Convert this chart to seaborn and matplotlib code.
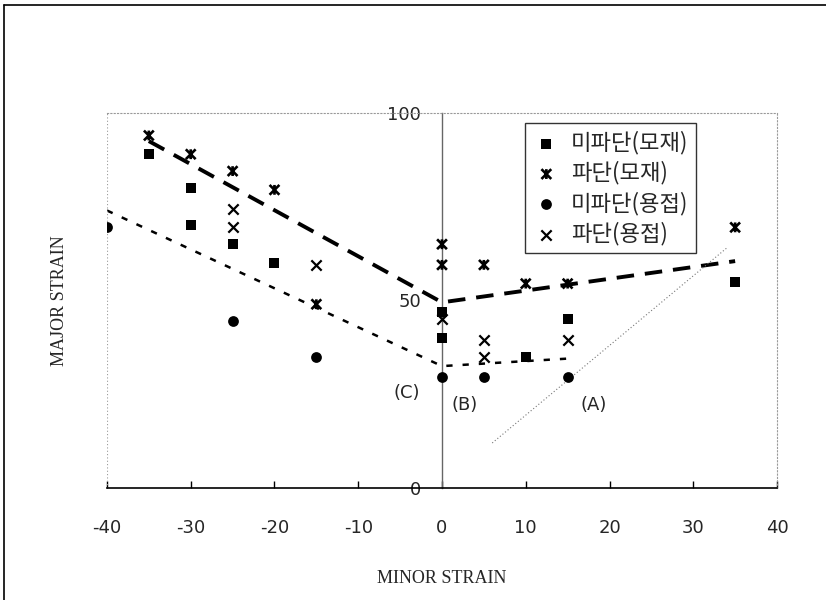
import matplotlib
matplotlib.use("Agg")
import matplotlib.pyplot as plt
from matplotlib.path import Path
from matplotlib.lines import Line2D
import seaborn as sns
import pandas as pd

# ---- data ----
sq_x = [-35, -30, -30, -25, -20, 0, 0, 10, 15, 35]
sq_y = [89, 80, 70, 65, 60, 47, 40, 35, 45, 55]
ast_x = [-35, -30, -25, -20, -15, 0, 0, 5, 10, 15, 35]
ast_y = [94, 89, 84.5, 79.5, 49, 65, 59.5, 59.5, 54.5, 54.5, 69.5]
circ_x = [-40, -25, -15, 0, 5, 15]
circ_y = [69.5, 44.5, 35, 29.5, 29.5, 29.5]
xm_x = [-25, -25, -15, 0, 5, 5, 15]
xm_y = [74.5, 69.5, 59.5, 45, 39.5, 35, 39.5]

base_line_x = [-35, 0, 35]
base_line_y = [92.5, 49.5, 60.5]
weld_line_x = [-40, 0, 15]
weld_line_y = [74, 32.5, 34.5]
a_line_x = [6, 34]
a_line_y = [12, 64]

series_names = ["미파단(모재)", "파단(모재)", "미파단(용접)", "파단(용접)"]
region_labels = ["(C)", "(B)", "(A)"]
region_x = [-4.2, 2.7, 18.1]
region_y = [25.3, 22.1, 22.1]

x_ticks = [-40, -30, -20, -10, 0, 10, 20, 30, 40]
y_ticks = [0, 50, 100]

sns.set_theme(style="white")
plt.rcParams['font.family'] = ['Noto Sans CJK KR', 'DejaVu Sans']

fig = plt.figure(figsize=(8.26, 6.0), dpi=100)
ax = fig.add_axes([0.1295, 0.1867, 0.8112, 0.625])

# custom star marker: x with vertical bar
star = Path([(-1, -1), (1, 1), (-1, 1), (1, -1), (0, -1), (0, 1)],
            [Path.MOVETO, Path.LINETO, Path.MOVETO, Path.LINETO, Path.MOVETO, Path.LINETO])

df_sq = pd.DataFrame({"x": sq_x, "y": sq_y})
df_ast = pd.DataFrame({"x": ast_x, "y": ast_y})
df_circ = pd.DataFrame({"x": circ_x, "y": circ_y})
df_xm = pd.DataFrame({"x": xm_x, "y": xm_y})

sns.lineplot(x=base_line_x, y=base_line_y, ax=ax, sort=False, estimator=None,
             color="black", lw=2.8, linestyle=(0, (4.5, 2.8)))
sns.lineplot(x=weld_line_x, y=weld_line_y, ax=ax, sort=False, estimator=None,
             color="black", lw=1.8, linestyle=(0, (2.5, 4.0)))
sns.lineplot(x=a_line_x, y=a_line_y, ax=ax, sort=False, estimator=None,
             color="#777777", lw=0.8, linestyle=(0, (1, 2)))

sns.scatterplot(data=df_sq, x="x", y="y", ax=ax, marker="s", color="black",
                s=55, edgecolor="black", linewidth=0, label=series_names[0], zorder=5)
sns.scatterplot(data=df_ast, x="x", y="y", ax=ax, marker=star, color="black",
                s=50, edgecolor="black", facecolor="none", linewidth=1.9,
                label=series_names[1], zorder=5)
sns.scatterplot(data=df_circ, x="x", y="y", ax=ax, marker="o", color="black",
                s=60, edgecolor="black", linewidth=0, label=series_names[2], zorder=5)
sns.scatterplot(data=df_xm, x="x", y="y", ax=ax, marker="x", color="black",
                s=55, linewidth=1.6, label=series_names[3], zorder=5)

ax.set_xlim(-40, 40)
ax.set_ylim(0, 100)

# spines
ax.spines['left'].set_position(('data', 0))
ax.spines['left'].set_color('#666666')
ax.spines['left'].set_linewidth(1.0)
ax.spines['bottom'].set_color('black')
ax.spines['bottom'].set_linewidth(1.2)
for s in ['top', 'right']:
    ax.spines[s].set_visible(True)
    ax.spines[s].set_color('#999999')
    ax.spines[s].set_linewidth(0.8)
    ax.spines[s].set_linestyle((0, (1, 2)))
ax.axvline(-40, color='#999999', lw=0.8, linestyle=(0, (1, 2)))

tick_font = ['Liberation Sans Narrow', 'DejaVu Sans']
ax.set_xticks(x_ticks)
ax.set_xticklabels([str(v) for v in x_ticks], family=tick_font, fontsize=13)
ax.set_yticks(y_ticks)
ax.set_yticklabels([str(v) for v in y_ticks], family=tick_font, fontsize=13)
ax.tick_params(axis='x', direction='in', length=5, width=1, color='black', pad=22, bottom=True)
ax.tick_params(axis='y', length=0, pad=15)

ax.set_xlabel("MINOR STRAIN", family=['Liberation Serif', 'DejaVu Serif'], fontsize=13, labelpad=24)
ax.set_ylabel("MAJOR STRAIN", family=['Liberation Serif', 'DejaVu Serif'], fontsize=13)
ax.yaxis.set_label_coords(-0.058, 0.5, transform=ax.transAxes)

for t, xx, yy in zip(region_labels, region_x, region_y):
    ax.text(xx, yy, t, ha='center', va='center', fontsize=13, family=tick_font)

leg = ax.legend(loc='upper right', bbox_to_anchor=(0.879, 0.973), frameon=True,
                fancybox=False, edgecolor='black', fontsize=16, labelspacing=0.3,
                handletextpad=0.5, handlelength=1.2, borderpad=0.35, borderaxespad=0)
leg.get_frame().set_linewidth(1.0)

# outer frame
fig.add_artist(Line2D([4 / 826, 1.0], [1 - 5 / 600, 1 - 5 / 600], color='black', lw=1.2,
                      transform=fig.transFigure))
fig.add_artist(Line2D([4 / 826, 4 / 826], [0, 1 - 5 / 600], color='black', lw=1.2,
                      transform=fig.transFigure))

fig.savefig("out.png", dpi=100, facecolor='white')
